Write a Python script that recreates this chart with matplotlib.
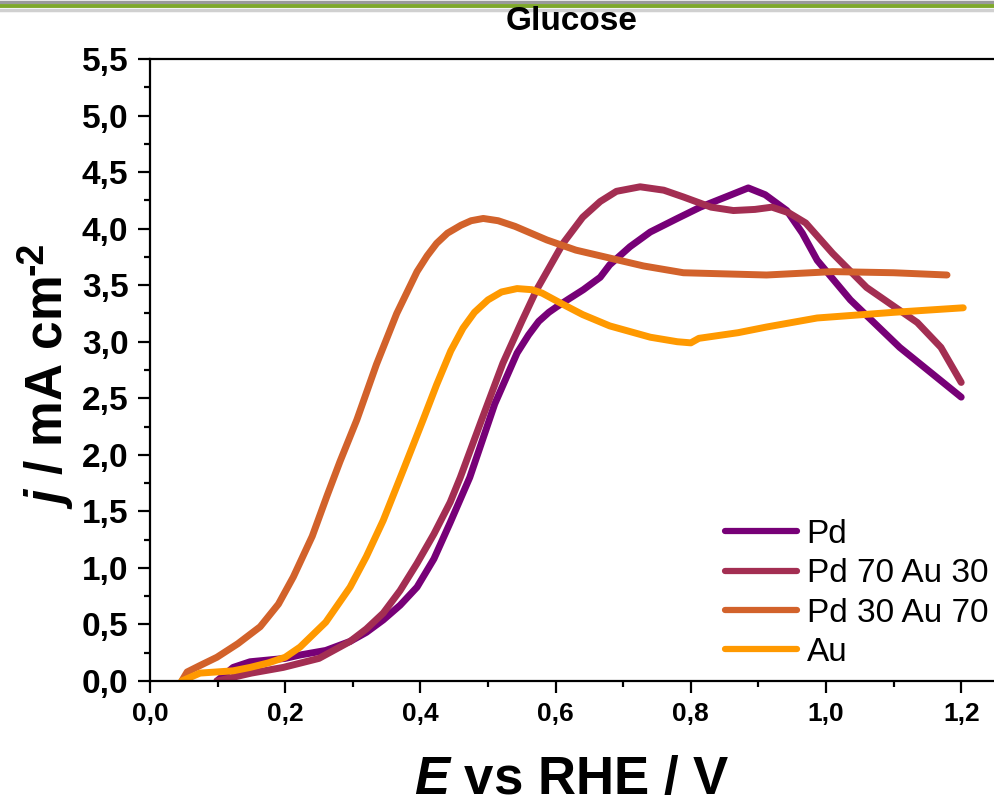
import numpy as np
import matplotlib
matplotlib.use("Agg")
import matplotlib.pyplot as plt
from matplotlib.ticker import MultipleLocator, FuncFormatter
from matplotlib.lines import Line2D

plt.rcParams["font.family"] = ["Liberation Sans", "DejaVu Sans"]
plt.rcParams["mathtext.fontset"] = "custom"
plt.rcParams["mathtext.it"] = "Liberation Sans:italic:bold"
plt.rcParams["mathtext.rm"] = "Liberation Sans:bold"
plt.rcParams["mathtext.bf"] = "Liberation Sans:bold"
plt.rcParams["xtick.labelsize"] = 19
plt.rcParams["ytick.labelsize"] = 24

# --- data (E vs RHE / V, j / mA cm-2) ---
labels = ["Pd", "Pd 70 Au 30", "Pd 30 Au 70", "Au"]
colors = ["#770077", "#A32E52", "#D2622B", "#FF9900"]

pd_E = [0.099, 0.123, 0.148, 0.2, 0.222, 0.26, 0.296, 0.32, 0.345, 0.37, 0.395,
        0.42, 0.444, 0.473, 0.51, 0.543, 0.56, 0.575, 0.59, 0.602, 0.62, 0.641,
        0.666, 0.68, 0.71, 0.74, 0.78, 0.814, 0.86, 0.885, 0.91, 0.942, 0.965,
        0.987, 1.036, 1.109, 1.20]
pd_j = [0.0, 0.12, 0.17, 0.2, 0.23, 0.27, 0.35, 0.43, 0.54, 0.67, 0.83,
        1.08, 1.40, 1.80, 2.45, 2.90, 3.06, 3.18, 3.26, 3.31, 3.38, 3.46,
        3.57, 3.68, 3.84, 3.97, 4.09, 4.19, 4.30, 4.36, 4.30, 4.16, 3.96,
        3.72, 3.37, 2.95, 2.51]

pd70_E = [0.099, 0.15, 0.197, 0.25, 0.296, 0.32, 0.345, 0.37, 0.395, 0.42, 0.444,
          0.459, 0.49, 0.522, 0.55, 0.572, 0.611, 0.64, 0.666, 0.69, 0.725,
          0.76, 0.789, 0.83, 0.863, 0.895, 0.92, 0.945, 0.97, 1.01, 1.06,
          1.135, 1.17, 1.20]
pd70_j = [0.0, 0.07, 0.12, 0.2, 0.35, 0.46, 0.60, 0.80, 1.04, 1.30, 1.58,
          1.80, 2.30, 2.81, 3.18, 3.46, 3.87, 4.10, 4.24, 4.33, 4.37,
          4.34, 4.28, 4.19, 4.16, 4.17, 4.19, 4.14, 4.05, 3.78, 3.48,
          3.17, 2.95, 2.64]

pd30_E = [0.047, 0.055, 0.075, 0.099, 0.13, 0.163, 0.19, 0.212, 0.24, 0.262,
          0.281, 0.306, 0.335, 0.365, 0.395, 0.41, 0.424, 0.44, 0.46, 0.475,
          0.493, 0.515, 0.54, 0.587, 0.63, 0.68, 0.73, 0.789, 0.85, 0.912,
          1.01, 1.10, 1.179]
pd30_j = [0.0, 0.08, 0.14, 0.21, 0.33, 0.48, 0.68, 0.92, 1.28, 1.64,
          1.94, 2.31, 2.80, 3.25, 3.62, 3.76, 3.87, 3.96, 4.03, 4.07,
          4.09, 4.07, 4.02, 3.90, 3.81, 3.74, 3.67, 3.61, 3.60, 3.59,
          3.62, 3.61, 3.59]

au_E = [0.047, 0.074, 0.123, 0.148, 0.175, 0.2, 0.222, 0.26, 0.296, 0.32, 0.345,
        0.375, 0.404, 0.424, 0.445, 0.463, 0.48, 0.50, 0.52, 0.543, 0.565,
        0.58, 0.611, 0.64, 0.68, 0.74, 0.78, 0.80, 0.812, 0.87, 0.912, 0.987,
        1.10, 1.203]
au_j = [0.0, 0.07, 0.09, 0.12, 0.16, 0.21, 0.30, 0.52, 0.83, 1.10, 1.42,
        1.87, 2.31, 2.62, 2.92, 3.12, 3.26, 3.37, 3.44, 3.47, 3.46,
        3.43, 3.33, 3.24, 3.14, 3.04, 3.00, 2.99, 3.03, 3.08, 3.13, 3.21,
        3.26, 3.30]

series = [(pd_E, pd_j), (pd70_E, pd70_j), (pd30_E, pd30_j), (au_E, au_j)]

W, H = 994, 801
fig = plt.figure(figsize=(W / 100, H / 100), dpi=100)
ax = fig.add_axes([150 / W, 1 - 681 / H, 1 - 150 / W, (681 - 59) / H])

for (E, j), c, lab in zip(series, colors, labels):
    ax.plot(E, j, color=c, lw=5, label=lab, solid_capstyle="round",
            solid_joinstyle="round")

ax.set_xlim(0, 1.2485)
ax.set_ylim(0, 5.5)
ax.xaxis.set_major_locator(MultipleLocator(0.2))
ax.xaxis.set_minor_locator(MultipleLocator(0.1))
ax.yaxis.set_major_locator(MultipleLocator(0.5))
ax.yaxis.set_minor_locator(MultipleLocator(0.25))
comma = FuncFormatter(lambda v, p: f"{v:.1f}".replace(".", ","))
ax.xaxis.set_major_formatter(comma)
ax.yaxis.set_major_formatter(comma)

ax.spines["right"].set_visible(False)
for s in ["left", "bottom", "top"]:
    ax.spines[s].set_linewidth(1.6)
ax.tick_params(which="major", direction="out", length=8.5, width=1.6)
ax.tick_params(which="minor", direction="out", length=4.3, width=1.6)
ax.tick_params(axis="y", pad=7)
ax.tick_params(axis="x", pad=6.5)
ax.tick_params(top=False, right=False, which="both")
for t in ax.get_xticklabels() + ax.get_yticklabels():
    t.set_fontweight("bold")

ax.set_xlabel(r"$\mathit{E}$" + " vs RHE / V", fontsize=38, fontweight="bold",
              labelpad=21)

# y label: main text plus a separate "-2" superscript, both rotated
ytxt = fig.text(62 / W, 1 - 509 / H, r"$\mathit{j}$" + " / mA cm", rotation=90,
                rotation_mode="anchor", ha="left", va="baseline",
                fontsize=37, fontweight="bold")
fig.canvas.draw()
bb = ytxt.get_window_extent()
fig.text(43 / W, (bb.y1 + 1) / H, "-2", rotation=90, rotation_mode="anchor",
         ha="left", va="baseline", fontsize=27, fontweight="bold")

fig.text(572 / W, 1 - 22 / H, "Glucose", ha="center", va="center",
         fontsize=24, fontweight="bold")

leg = ax.legend(loc="upper left", bbox_to_anchor=(725 / W, 1 - 519 / H),
                bbox_transform=fig.transFigure, frameon=False, fontsize=24,
                handlelength=2.15, handletextpad=0.3, labelspacing=0.25,
                borderaxespad=0, borderpad=0)
for h in leg.get_lines():
    h.set_linewidth(4.5)

# slide header band
fig.add_artist(Line2D([0, 1], [1 - 1.5 / H, 1 - 1.5 / H], color="#9a9a9a", lw=2.5))
fig.add_artist(Line2D([0, 1], [1 - 5.5 / H, 1 - 5.5 / H], color="#7EA82A", lw=2.8))
fig.add_artist(Line2D([0, 1], [1 - 9.5 / H, 1 - 9.5 / H], color="#d0d0d0", lw=2.5))

fig.savefig("out.png", dpi=100)
